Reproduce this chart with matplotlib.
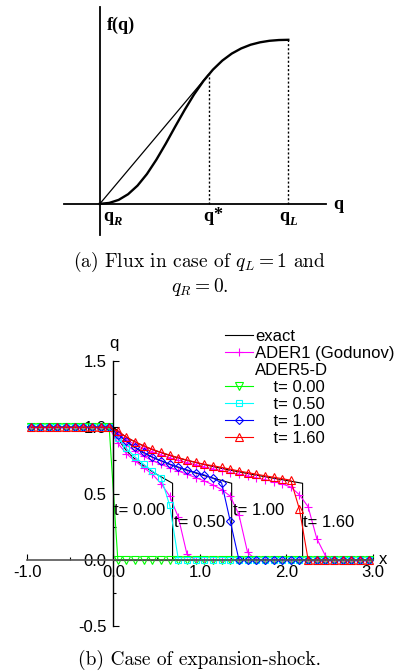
import numpy as np
import matplotlib
matplotlib.use("Agg")
import matplotlib.pyplot as plt
from matplotlib.lines import Line2D
from matplotlib.ticker import MultipleLocator, FormatStrFormatter

plt.rcParams['mathtext.fontset'] = 'cm'
plt.rcParams['axes.unicode_minus'] = False

# flux function f(q) (top sketch)
flux_q = [0.0, 0.05, 0.1, 0.15, 0.2, 0.25, 0.3, 0.35, 0.4, 0.45, 0.5,
          0.55, 0.6, 0.65, 0.7, 0.75, 0.8, 0.85, 0.9, 0.95, 1.0]
flux_f = [0.0, 0.0055, 0.0241, 0.0586, 0.111, 0.1818, 0.269, 0.367, 0.471, 0.5724, 0.667,
          0.7492, 0.818, 0.8734, 0.916, 0.9474, 0.970, 0.9847, 0.994, 0.9986, 1.0]
q_star = 0.577
f_star = 0.789
q_left = 1.0
f_left = 1.0

# cell centres of the 40-cell grid on [-1, 3]
x_cells = np.linspace(-0.95, 2.95, 40)

# ADER5-D results
q5_t000 = [1.0]*10 + [0.0]*30
q5_t050 = [1.0]*10 + [0.92, 0.84, 0.775, 0.72, 0.67, 0.62, 0.41] + [0.0]*23
q5_t100 = [1.0]*10 + [0.945, 0.895, 0.85, 0.81, 0.775, 0.748, 0.722, 0.70, 0.678,
                      0.658, 0.64, 0.615, 0.58, 0.29] + [0.0]*16
q5_t160 = [1.0]*10 + [0.97, 0.925, 0.89, 0.86, 0.833, 0.81, 0.79, 0.77, 0.752, 0.736,
                      0.72, 0.71, 0.697, 0.684, 0.67, 0.658, 0.646, 0.634, 0.623,
                      0.612, 0.60, 0.38] + [0.0]*8

# ADER1 (Godunov) results
q1_t050 = [1.0]*10 + [0.88, 0.80, 0.745, 0.695, 0.645, 0.575, 0.48, 0.32, 0.04] + [0.0]*21
q1_t100 = [1.0]*10 + [0.92, 0.865, 0.82, 0.78, 0.748, 0.72, 0.695, 0.67, 0.645, 0.62,
                      0.595, 0.565, 0.53, 0.48, 0.34, 0.055] + [0.0]*14
q1_t160 = [1.0]*10 + [0.95, 0.905, 0.87, 0.84, 0.815, 0.79, 0.77, 0.75, 0.733, 0.717,
                      0.70, 0.686, 0.672, 0.658, 0.645, 0.632, 0.619, 0.605, 0.59,
                      0.573, 0.548, 0.49, 0.40, 0.16, 0.03] + [0.0]*5

# exact solution: rarefaction fan followed by the shock
exact_q = [1.0, 1.0, 0.95, 0.925, 0.9, 0.875, 0.85, 0.825, 0.8, 0.775, 0.75,
           0.725, 0.7, 0.675, 0.65, 0.625, 0.6, 0.577, 0.0, 0.0]
exact_x_050 = [-1.0, 0.0, 0.029, 0.047, 0.068, 0.092, 0.119, 0.149, 0.184, 0.223, 0.266,
               0.314, 0.367, 0.425, 0.486, 0.552, 0.62, 0.683, 0.683, 3.0]
exact_x_100 = [-1.0, 0.0, 0.058, 0.094, 0.136, 0.183, 0.237, 0.298, 0.367, 0.445, 0.532,
               0.628, 0.734, 0.849, 0.972, 1.103, 1.240, 1.366, 1.366, 3.0]
exact_x_160 = [-1.0, 0.0, 0.093, 0.150, 0.218, 0.293, 0.379, 0.477, 0.587, 0.712, 0.851,
               1.005, 1.174, 1.358, 1.555, 1.765, 1.984, 2.186, 2.186, 3.0]
exact_x_000 = [-1.0, 0.0, 0.0, 3.0]
exact_q_000 = [1.0, 1.0, 0.0, 0.0]

times = ['0.00', '0.50', '1.00', '1.60']
time_label_pos = [(0.01, 0.375), (0.70, 0.28), (1.38, 0.375), (2.19, 0.28)]

W, H = 399, 671
fig = plt.figure(figsize=(W/100, H/100), dpi=100)

# ---------------- (a) flux sketch ----------------
ax1 = fig.add_axes([64/W, 1-235/H, 262/W, 228/H])
ax1.set_xlim(-0.19, 1.20)
ax1.set_ylim(-0.19, 1.20)
ax1.axis('off')
ax1.plot([-0.19, 1.20], [0, 0], color='black', lw=1.3, clip_on=False)
ax1.plot([0, 0], [-0.19, 1.20], color='black', lw=1.3, clip_on=False)
ax1.plot(flux_q, flux_f, color='black', lw=1.7)
ax1.plot([0, q_star], [0, f_star], color='black', lw=0.9)
ax1.plot([q_star, q_star], [0, f_star], color='black', lw=1.0, ls=(0, (1.5, 1.5)))
ax1.plot([q_left, q_left], [0, f_left], color='black', lw=1.0, ls=(0, (1.5, 1.5)))

bold = dict(family='Liberation Serif', weight='bold', fontsize=13)
sub = dict(family='Liberation Serif', weight='bold', style='italic', fontsize=9)
ax1.text(0.037, 1.09, 'f(q)', ha='left', va='center', **bold)
ax1.text(1.239, -0.03, 'q', ha='left', va='baseline', **bold)
for xq, s, up in [(0.016, 'R', False), (0.548, '*', True), (0.952, 'L', False)]:
    ax1.text(xq, -0.105, 'q', ha='left', va='baseline', **bold)
    dy = 1 if up else -3
    ax1.annotate(s, (xq, -0.105), xytext=(7.4, dy), textcoords='offset points',
                 ha='left', va='baseline', **(bold if up else sub))

fig.text(0.5, 1-262/H, r'(a) Flux in case of $q_L = 1$ and', ha='center', va='center',
         family='cmr10', fontsize=14)
fig.text(0.5, 1-287/H, r'$q_R = 0$.', ha='center', va='center',
         family='cmr10', fontsize=14)

# ---------------- (b) expansion-shock ----------------
ax = fig.add_axes([27/W, 1-626/H, 346/W, 265/H])
ax.set_xlim(-1.0, 3.0)
ax.set_ylim(-0.5, 1.5)
for side in ['top', 'right']:
    ax.spines[side].set_visible(False)
ax.spines['left'].set_position(('data', 0))
ax.spines['bottom'].set_position(('data', 0))
ax.spines['bottom'].set_color('#555555')
ax.spines['bottom'].set_linewidth(1.2)
ax.spines['left'].set_linewidth(1.0)
ax.xaxis.set_major_locator(MultipleLocator(1.0))
ax.xaxis.set_minor_locator(MultipleLocator(0.5))
ax.yaxis.set_major_locator(MultipleLocator(0.5))
ax.yaxis.set_minor_locator(MultipleLocator(0.25))
ax.xaxis.set_major_formatter(FormatStrFormatter('%.1f'))
ax.yaxis.set_major_formatter(FormatStrFormatter('%.1f'))
ax.tick_params(which='both', direction='in', labelsize=12, width=0.8)
ax.tick_params(which='major', length=4)
ax.tick_params(which='minor', length=2)
ax.tick_params(axis='x', pad=4)
ax.tick_params(axis='y', pad=5)
for lab in ax.get_xticklabels() + ax.get_yticklabels():
    lab.set_family('Liberation Sans')

lw = 0.8
ax.plot(exact_x_000, exact_q_000, color='black', lw=lw)
for ex in [exact_x_050, exact_x_100, exact_x_160]:
    ax.plot(ex, exact_q, color='black', lw=lw)

for q1 in [q1_t050, q1_t100, q1_t160]:
    ax.plot(x_cells, q1, color='#ff00ff', lw=lw, marker='+', ms=6, mew=0.8, clip_on=False)

styles = [('#00ff00', 'v', 5.5), ('#00ffff', 's', 4.3), ('#0000ff', 'D', 4), ('#ff0000', '^', 6)]
for q5, (c, m, ms) in zip([q5_t000, q5_t050, q5_t100, q5_t160], styles):
    ax.plot(x_cells, q5, color=c, lw=lw, marker=m, ms=ms, mfc='none', mew=0.8, clip_on=False)

for t, (xt, yt) in zip(times, time_label_pos):
    ax.text(xt, yt, 't= ' + t, ha='left', va='center', family='Liberation Sans', fontsize=12)

ax.text(3.07, 0.0, 'x', ha='left', va='center', family='Liberation Sans', fontsize=12)
ax.text(0.01, 1.63, 'q', ha='center', va='center', family='Liberation Sans', fontsize=12)

handles = [Line2D([], [], color='black', lw=lw),
           Line2D([], [], color='#ff00ff', lw=lw, marker='+', ms=6, mew=0.8),
           Line2D([], [], ls='none')]
labels = ['exact', 'ADER1 (Godunov)', 'ADER5-D']
for t, (c, m, ms) in zip(times, styles):
    handles.append(Line2D([], [], color=c, lw=lw, marker=m, ms=ms, mfc='none', mew=0.8))
    labels.append('    t= ' + t)
leg = ax.legend(handles, labels, loc='upper left', bbox_to_anchor=(225/W, 1-329/H),
                bbox_transform=fig.transFigure, frameon=False, fontsize=12,
                handlelength=1.65, handletextpad=0.15, labelspacing=0.12,
                borderpad=0, borderaxespad=0, numpoints=1)
for txt in leg.get_texts():
    txt.set_family('Liberation Sans')

fig.text(0.5, 1-660/H, '(b) Case of expansion-shock.', ha='center', va='center',
         family='cmr10', fontsize=14)

fig.savefig('out.png', dpi=100)
